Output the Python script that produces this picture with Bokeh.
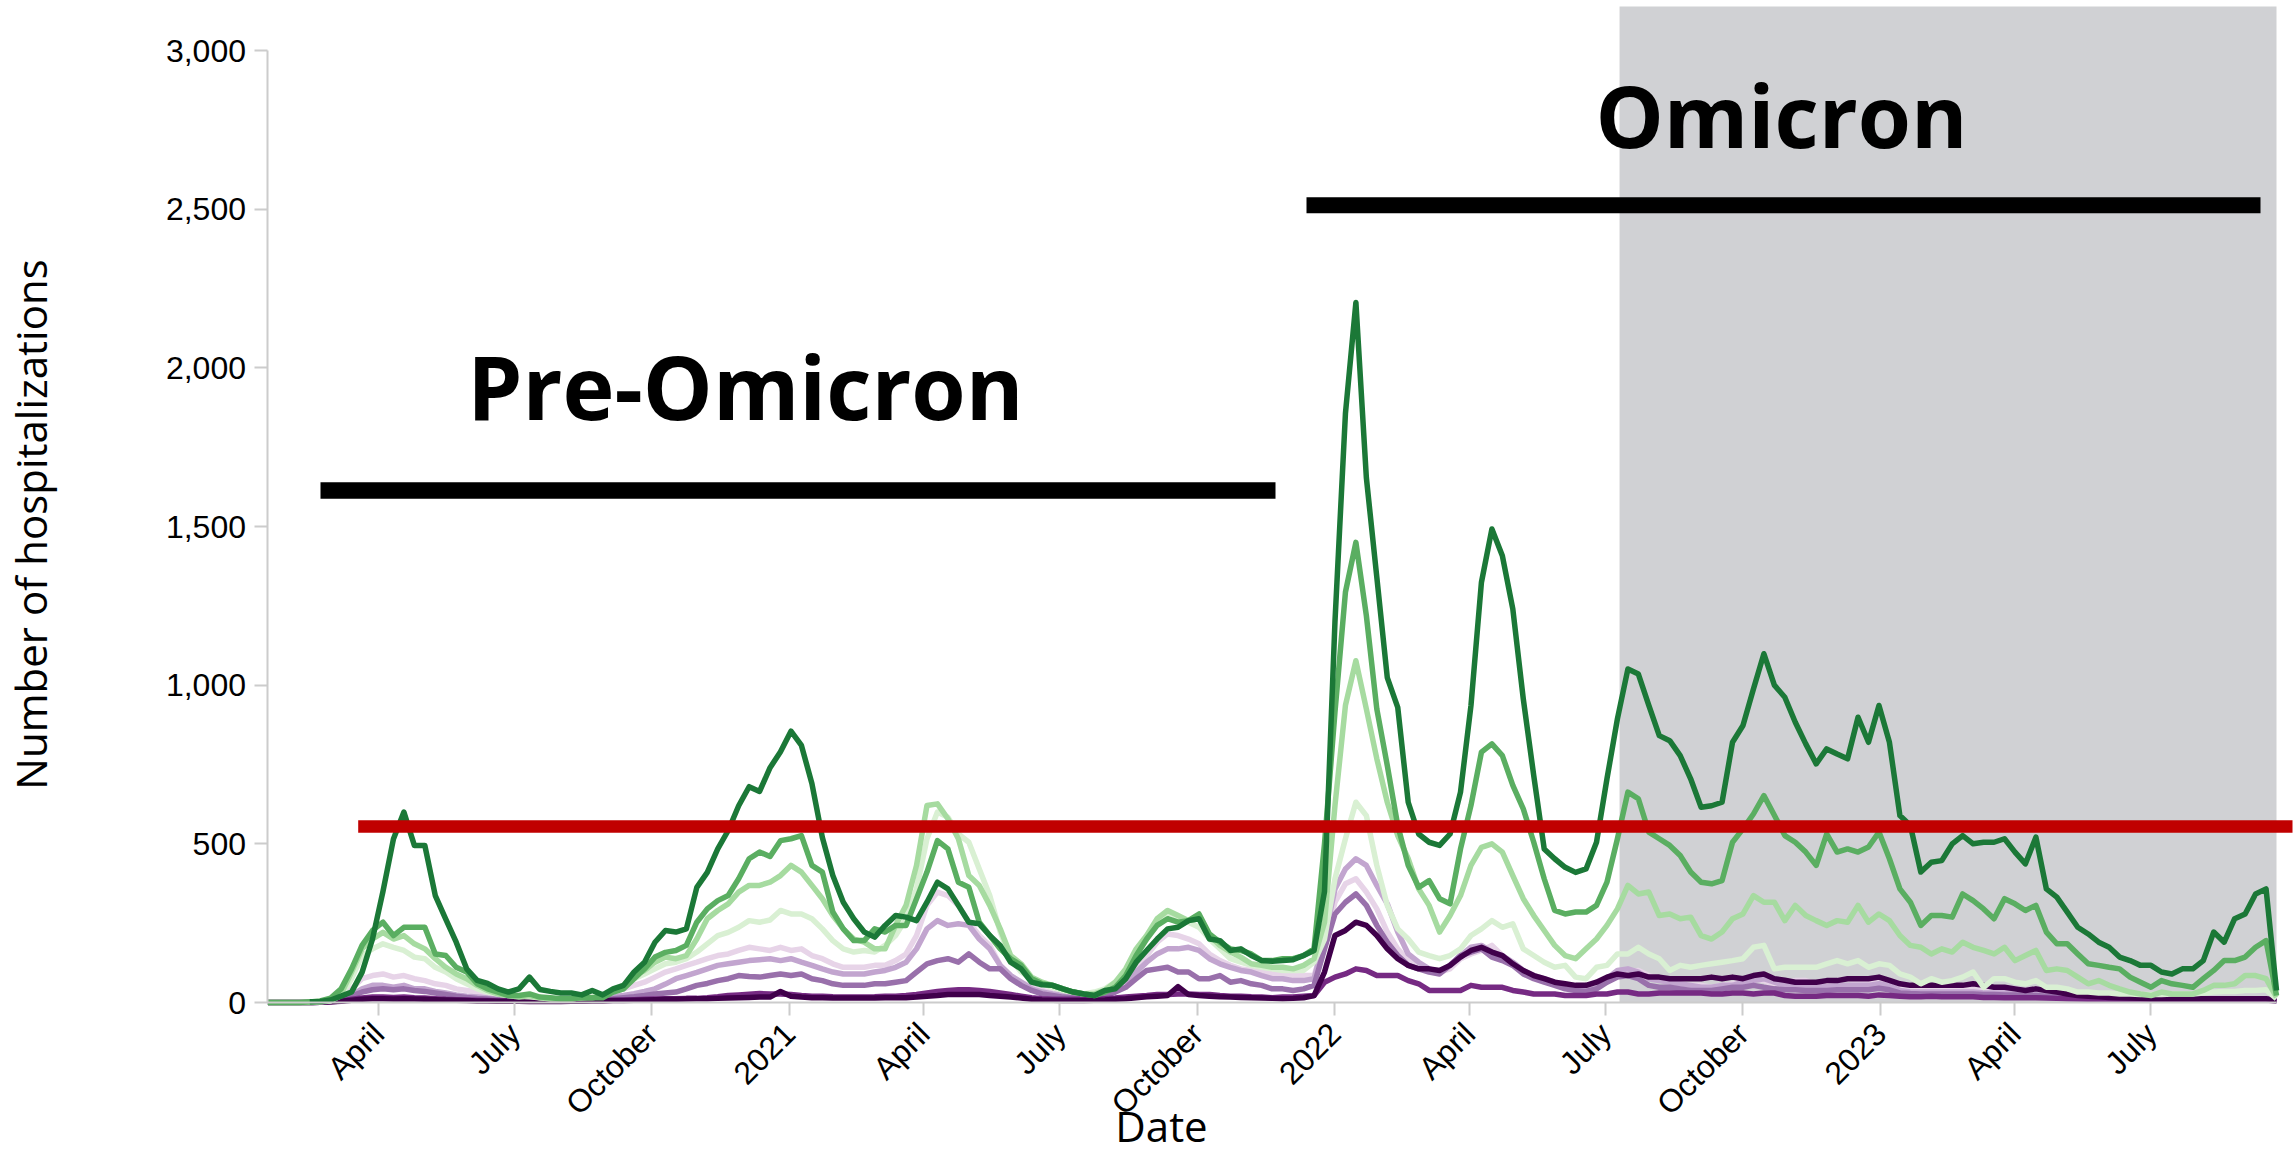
import numpy as np
import pandas as pd
from bokeh.plotting import figure
from bokeh.models import Range1d, FixedTicker, NumeralTickFormatter, BoxAnnotation, Label, ColumnDataSource
from bokeh.embed import file_html
from bokeh.resources import INLINE

nan = float("nan")

# ---------------- data (weekly, week ending Saturday, from 2020-01-18) ----------------
first_week = "2020-01-18"
n_weeks = 193

green_4 = [
    nan, nan, nan, nan, 2, 3, 8, 20, 33, 95,
    200, 350, 515, 600, 495, 495, 337, 263, 190, 106,
    70, 60, 43, 33, 43, 80, 41, 35, 30, 30,
    24, 38, 24, 43, 54, 96, 127, 190, 227, 222,
    232, 363, 410, 484, 542, 620, 680, 665, 740, 790,
    855, 810, 690, 520, 400, 316, 264, 222, 206, 243,
    274, 269, 258, 316, 379, 358, 306, 253, 248, 211,
    180, 127, 106, 64, 56, 54, 43, 33, 27, 22,
    38, 43, 75, 127, 164, 200, 232, 237, 258, 264,
    200, 195, 164, 169, 148, 132, 130, 132, 135, 148,
    164, 350, 1200, 1856, 2206, 1654, 1340, 1024, 930, 631,
    531, 505, 495, 531, 663, 936, 1324, 1492, 1408, 1240,
    957, 715, 484, 453, 426, 410, 421, 505, 705, 894,
    1051, 1035, 936, 841, 825, 778, 705, 615, 620, 631,
    820, 873, 988, 1099, 1000, 962, 883, 815, 752, 799,
    783, 768, 899, 820, 936, 820, 589, 558, 411, 442,
    447, 500, 526, 500, 505, 505, 516, 474, 437, 521,
    358, 332, 285, 237, 216, 190, 174, 143, 132, 117,
    117, 96, 90, 106, 106, 132, 222, 190, 264, 279,
    342, 358, 38,
]
green_3 = [
    0, 0, 0, 0, 2, 5, 14, 43, 106, 180,
    227, 253, 211, 237, 237, 237, 153, 148, 111, 96,
    59, 43, 33, 22, 22, 27, 17, 15, 12, 12,
    15, 15, 15, 33, 43, 75, 106, 143, 158, 164,
    180, 253, 295, 321, 337, 390, 453, 474, 460, 510,
    516, 526, 432, 411, 285, 232, 195, 195, 232, 222,
    243, 243, 327, 411, 510, 484, 379, 363, 253, 211,
    169, 138, 117, 75, 59, 54, 43, 33, 27, 22,
    33, 48, 85, 148, 200, 243, 264, 253, 258, 279,
    216, 190, 169, 164, 153, 132, 132, 138, 138, 148,
    169, 500, 915, 1293, 1450, 1219, 925, 747, 558, 432,
    363, 384, 327, 311, 484, 621, 789, 815, 778, 684,
    610, 505, 390, 290, 279, 285, 285, 306, 379, 516,
    663, 642, 537, 516, 495, 463, 411, 379, 374, 384,
    505, 547, 594, 652, 590, 526, 505, 474, 432, 531,
    474, 484, 474, 490, 537, 453, 358, 316, 243, 274,
    274, 269, 342, 321, 295, 264, 327, 311, 290, 306,
    222, 185, 185, 153, 122, 117, 111, 106, 80, 64,
    48, 69, 59, 54, 48, 75, 101, 132, 132, 143,
    174, 195, 22,
]
green_2 = [
    0, 0, 0, 0, 0, 2, 6, 27, 96, 169,
    200, 221, 200, 211, 185, 169, 138, 111, 90, 75,
    54, 38, 27, 22, 17, 22, 15, 12, 12, 12,
    15, 15, 20, 38, 54, 85, 101, 127, 143, 138,
    148, 200, 264, 290, 311, 348, 369, 369, 379, 400,
    432, 411, 369, 327, 274, 232, 200, 190, 169, 169,
    243, 306, 432, 621, 626, 579, 516, 400, 369, 306,
    232, 148, 122, 80, 64, 54, 43, 33, 27, 27,
    38, 64, 106, 169, 211, 264, 290, 274, 258, 264,
    211, 180, 159, 143, 122, 117, 111, 111, 106, 117,
    138, 253, 621, 936, 1077, 925, 768, 631, 526, 453,
    358, 306, 222, 274, 337, 432, 489, 500, 474, 400,
    327, 274, 227, 180, 148, 138, 169, 200, 243, 295,
    369, 342, 348, 274, 279, 264, 269, 211, 200, 222,
    264, 279, 337, 316, 316, 258, 306, 274, 258, 243,
    258, 253, 306, 253, 279, 258, 211, 180, 174, 153,
    169, 159, 190, 174, 164, 153, 174, 132, 148, 164,
    101, 106, 101, 80, 59, 69, 54, 43, 33, 27,
    22, 33, 27, 27, 27, 38, 54, 54, 59, 85,
    85, 75, 17,
]
green_1 = [
    0, 0, 0, 0, 0, 2, 5, 22, 75, 148,
    169, 185, 174, 164, 143, 138, 111, 96, 75, 59,
    43, 33, 27, 22, 20, 18, 15, 12, 12, 12,
    15, 18, 22, 43, 54, 75, 90, 106, 122, 127,
    138, 159, 185, 211, 221, 237, 258, 253, 260, 290,
    279, 279, 264, 232, 195, 169, 159, 164, 159, 180,
    211, 264, 358, 516, 600, 584, 531, 505, 421, 337,
    222, 138, 96, 75, 59, 48, 38, 33, 27, 33,
    43, 64, 96, 148, 200, 253, 285, 269, 253, 237,
    200, 169, 138, 127, 117, 111, 106, 101, 101, 101,
    127, 200, 390, 516, 631, 589, 432, 306, 232, 200,
    159, 148, 138, 148, 169, 211, 232, 258, 237, 248,
    169, 148, 127, 111, 117, 80, 75, 111, 117, 153,
    153, 174, 153, 138, 101, 117, 111, 117, 122, 127,
    132, 138, 174, 180, 106, 111, 111, 111, 111, 122,
    132, 122, 132, 111, 122, 117, 90, 80, 59, 75,
    64, 69, 80, 96, 48, 75, 75, 64, 59, 69,
    48, 48, 43, 33, 33, 30, 30, 27, 27, 25,
    25, 25, 27, 27, 27, 30, 33, 35, 35, 38,
    38, 40, 12,
]
purple_1 = [
    0, 0, 0, 0, 0, 2, 4, 10, 43, 75,
    85, 90, 80, 85, 75, 69, 59, 54, 43, 38,
    33, 22, 17, 14, 12, 10, 10, 10, 10, 12,
    14, 17, 20, 33, 43, 54, 64, 80, 96, 106,
    117, 127, 138, 148, 153, 164, 174, 169, 164, 174,
    164, 169, 148, 138, 122, 111, 111, 111, 117, 117,
    132, 153, 211, 306, 348, 337, 306, 253, 211, 180,
    117, 85, 64, 48, 38, 30, 24, 20, 17, 22,
    33, 54, 75, 106, 148, 190, 216, 211, 200, 185,
    153, 132, 117, 106, 101, 96, 90, 90, 85, 85,
    85, 190, 316, 374, 390, 348, 295, 222, 169, 132,
    111, 101, 96, 106, 138, 153, 164, 180, 148, 122,
    96, 80, 69, 59, 54, 45, 43, 54, 69, 90,
    96, 101, 85, 75, 64, 59, 54, 54, 48, 54,
    59, 64, 75, 69, 54, 64, 69, 69, 59, 64,
    69, 75, 64, 64, 69, 59, 43, 38, 38, 43,
    38, 43, 48, 43, 38, 38, 38, 43, 38, 38,
    33, 27, 25, 22, 20, 18, 17, 16, 15, 14,
    13, 13, 12, 12, 12, 12, 12, 12, 12, 12,
    12, 12, 8,
]
purple_2 = [
    0, 0, 0, 0, 0, 1, 3, 8, 22, 43,
    54, 54, 48, 54, 43, 43, 35, 30, 24, 20,
    17, 14, 12, 10, 8, 8, 8, 8, 8, 10,
    12, 14, 16, 18, 22, 28, 35, 43, 58, 75,
    85, 95, 106, 117, 122, 127, 132, 135, 138, 132,
    138, 127, 117, 106, 96, 90, 90, 90, 96, 101,
    111, 127, 169, 232, 258, 243, 248, 243, 200, 169,
    117, 85, 64, 43, 33, 27, 22, 17, 17, 22,
    33, 48, 69, 96, 127, 153, 169, 169, 174, 164,
    138, 122, 111, 101, 96, 85, 75, 75, 69, 69,
    75, 200, 358, 421, 453, 432, 369, 311, 222, 153,
    127, 106, 96, 117, 148, 174, 180, 159, 148, 127,
    101, 85, 75, 64, 54, 48, 43, 54, 75, 101,
    106, 96, 75, 69, 64, 59, 54, 48, 48, 54,
    54, 64, 69, 75, 64, 54, 54, 54, 50, 50,
    54, 54, 54, 54, 59, 54, 38, 33, 33, 33,
    33, 33, 33, 33, 30, 30, 30, 30, 27, 27,
    25, 22, 20, 18, 16, 15, 14, 13, 12, 12,
    11, 11, 10, 10, 10, 10, 10, 10, 10, 10,
    10, 10, 6,
]
purple_3 = [
    0, 0, 0, 0, 0, 1, 3, 8, 20, 33,
    40, 43, 40, 43, 38, 35, 30, 25, 20, 16,
    13, 11, 9, 8, 7, 6, 6, 6, 6, 7,
    8, 9, 10, 12, 15, 18, 22, 27, 30, 33,
    43, 54, 60, 69, 75, 85, 82, 80, 85, 90,
    85, 90, 75, 69, 59, 54, 54, 54, 59, 59,
    64, 69, 96, 122, 132, 138, 127, 153, 127, 106,
    106, 75, 54, 38, 27, 22, 17, 14, 14, 17,
    22, 33, 48, 75, 101, 106, 111, 96, 96, 75,
    75, 85, 64, 69, 59, 54, 43, 43, 38, 43,
    54, 169, 279, 316, 342, 306, 243, 190, 148, 117,
    106, 96, 90, 117, 148, 159, 169, 143, 132, 117,
    90, 75, 64, 54, 43, 38, 35, 43, 64, 80,
    85, 75, 54, 48, 48, 43, 38, 38, 38, 43,
    48, 48, 54, 48, 43, 40, 40, 38, 38, 38,
    40, 40, 40, 40, 45, 40, 30, 28, 27, 27,
    27, 27, 27, 27, 25, 25, 24, 24, 22, 22,
    20, 18, 16, 15, 14, 13, 12, 11, 10, 10,
    10, 9, 9, 9, 9, 9, 9, 9, 9, 9,
    9, 9, 5,
]
purple_4 = [
    0, 0, 0, 0, 0, 1, 2, 5, 10, 14,
    17, 17, 16, 17, 15, 14, 12, 10, 9, 8,
    7, 6, 5, 5, 4, 4, 4, 4, 4, 5,
    5, 6, 6, 7, 8, 9, 10, 11, 12, 12,
    13, 13, 15, 18, 22, 24, 26, 28, 27, 27,
    25, 22, 20, 20, 18, 17, 17, 17, 18, 20,
    20, 22, 25, 30, 35, 38, 40, 40, 38, 35,
    30, 25, 20, 15, 12, 10, 10, 10, 10, 10,
    12, 14, 17, 20, 22, 25, 25, 27, 27, 25,
    25, 22, 20, 20, 18, 17, 15, 17, 17, 20,
    22, 64, 80, 90, 106, 101, 85, 85, 85, 69,
    59, 38, 38, 38, 38, 54, 48, 48, 48, 38,
    33, 27, 27, 27, 22, 22, 22, 27, 27, 33,
    33, 27, 27, 30, 30, 30, 30, 30, 27, 27,
    30, 30, 27, 30, 30, 22, 20, 20, 20, 22,
    22, 22, 22, 20, 24, 22, 20, 18, 18, 20,
    18, 18, 18, 18, 16, 16, 15, 15, 15, 15,
    14, 13, 12, 11, 10, 10, 9, 9, 9, 9,
    9, 9, 8, 8, 8, 8, 8, 8, 8, 8,
    8, 8, 5,
]
purple_5 = [
    0, 0, 0, 0, 0, 1, 2, 4, 7, 10,
    12, 12, 11, 12, 11, 10, 9, 8, 7, 6,
    5, 5, 4, 4, 4, 3, 3, 3, 3, 4,
    4, 5, 5, 6, 6, 7, 8, 9, 10, 10,
    11, 12, 12, 13, 14, 15, 16, 17, 17, 35,
    20, 17, 15, 15, 14, 14, 14, 14, 14, 15,
    15, 15, 17, 20, 22, 25, 25, 25, 25, 22,
    20, 17, 14, 10, 8, 7, 6, 6, 6, 7,
    8, 10, 12, 15, 18, 20, 22, 50, 25, 22,
    20, 18, 17, 16, 15, 14, 13, 12, 13, 15,
    22, 96, 211, 227, 253, 243, 211, 169, 138, 117,
    106, 106, 101, 117, 143, 164, 174, 159, 148, 122,
    101, 85, 75, 64, 59, 54, 54, 64, 80, 90,
    85, 90, 80, 80, 75, 75, 75, 75, 80, 75,
    80, 75, 85, 90, 75, 70, 64, 64, 64, 69,
    69, 75, 75, 75, 80, 70, 59, 54, 54, 54,
    54, 54, 54, 59, 54, 48, 48, 43, 38, 43,
    38, 33, 27, 22, 20, 18, 16, 15, 14, 13,
    12, 12, 12, 12, 12, 12, 12, 12, 12, 12,
    12, 12, 8,
]

series = [
    ("purple_1", purple_1, "#e7d4e8"),
    ("purple_2", purple_2, "#c2a5cf"),
    ("purple_3", purple_3, "#9970ab"),
    ("purple_4", purple_4, "#762a83"),
    ("purple_5", purple_5, "#40004b"),
    ("green_1", green_1, "#d9f0d3"),
    ("green_2", green_2, "#a6dba0"),
    ("green_3", green_3, "#5aae61"),
    ("green_4", green_4, "#1b7837"),
]
for nm, vals, _ in series:
    assert len(vals) == n_weeks, (nm, len(vals))

tick_dates = ["2020-04-01", "2020-07-01", "2020-10-01", "2021-01-01", "2021-04-01", "2021-07-01",
              "2021-10-01", "2022-01-01", "2022-04-01", "2022-07-01", "2022-10-01", "2023-01-01",
              "2023-04-01", "2023-07-01"]
tick_labels = ["April", "July", "October", "2021", "April", "July", "October", "2022",
               "April", "July", "October", "2023", "April", "July"]
y_ticks = [0, 500, 1000, 1500, 2000, 2500, 3000]
y_max_tick = 3000

# ---------------- layout helpers (page pixel -> data coordinates) ----------------
W, H = 2295, 1156
PX_PER_DAY = 1.4945
FIRST_WEEK_PX = 267.4
ZERO_PX = 1002.0
UNITS_PER_PX = 3000 / 952.0
DAY_MS = 86400000


def ms(s):
    return int(pd.Timestamp(s).value // 10**6)


def xpx(px):
    return ms(first_week) + (px - FIRST_WEEK_PX) / PX_PER_DAY * DAY_MS


def ypx(py):
    return (ZERO_PX - py) * UNITS_PER_PX


dates = pd.date_range(first_week, periods=n_weeks, freq="7D")
dates_ms = [ms(d) for d in dates]

p = figure(width=W, height=H, output_backend="svg", toolbar_location=None,
           x_range=Range1d(xpx(0), xpx(W)), y_range=Range1d(ypx(H), ypx(0)),
           min_border_left=0, min_border_right=0, min_border_top=0, min_border_bottom=0)
p.outline_line_color = None
p.grid.visible = False
p.background_fill_color = "white"
p.border_fill_color = "white"

# shaded Omicron-dominant period
p.add_layout(BoxAnnotation(left=ms("2022-07-10 10:00"), right=dates_ms[-1], bottom=0, top=ypx(6),
                           fill_color="#d0d1d4", fill_alpha=1.0, line_color=None, level="underlay"))

for nm, vals, col in series:
    src = ColumnDataSource(dict(x=dates_ms, y=vals))
    p.line("x", "y", source=src, line_color=col, line_width=5.5, line_join="round")

# threshold line and period bars
p.segment(x0=[xpx(357.7)], y0=[ypx(826)], x1=[xpx(2292)], y1=[ypx(826)],
          line_color="#c00000", line_width=12.5)
p.segment(x0=[xpx(320)], y0=[ypx(490)], x1=[xpx(1275)], y1=[ypx(490)],
          line_color="black", line_width=16.5)
p.segment(x0=[xpx(1306)], y0=[ypx(204.7)], x1=[xpx(2260)], y1=[ypx(204.7)],
          line_color="black", line_width=16)

# axes drawn at fixed locations
tick_ms = [ms(t) for t in tick_dates]
xa = p.xaxis[0]
xa.fixed_location = 0
xa.ticker = FixedTicker(ticks=tick_ms)
xa.major_label_overrides = {t: l for t, l in zip(tick_ms, tick_labels)}
xa.major_label_orientation = np.pi / 4
xa.bounds = (dates_ms[0], dates_ms[-1])
ya = p.yaxis[0]
ya.fixed_location = xpx(266.5)
ya.ticker = FixedTicker(ticks=y_ticks)
ya.formatter = NumeralTickFormatter(format="0,0")
ya.bounds = (0, y_max_tick)
for ax in (xa, ya):
    ax.axis_line_color = "#cccccc"
    ax.axis_line_width = 2
    ax.major_tick_line_color = "#cccccc"
    ax.major_tick_line_width = 2
    ax.major_tick_out = 13
    ax.major_tick_in = 0
    ax.minor_tick_line_color = None
    ax.major_label_text_font = "Liberation Sans"
    ax.major_label_text_font_size = "32px"
    ax.major_label_text_color = "black"
ya.major_label_standoff = 8
xa.major_label_standoff = 13

# axis titles and period labels
p.add_layout(Label(x=xpx(30), y=ypx(524), text="Number of hospitalizations", angle=np.pi / 2,
                   text_font="Open Sans", text_font_size="42px", text_align="center",
                   text_baseline="alphabetic", text_color="black"))
p.add_layout(Label(x=xpx(1161), y=ypx(1125), text="Date",
                   text_font="Open Sans", text_font_size="42px", text_align="center",
                   text_baseline="alphabetic", text_color="black"))
p.add_layout(Label(x=xpx(745), y=ypx(385), text="Pre-Omicron",
                   text_font="Open Sans", text_font_size="88px", text_font_style="bold",
                   text_align="center", text_baseline="alphabetic", text_color="black"))
p.add_layout(Label(x=xpx(1781), y=ypx(114), text="Omicron",
                   text_font="Open Sans", text_font_size="86px", text_font_style="bold",
                   text_align="center", text_baseline="alphabetic", text_color="black"))

open("out.html", "w").write(file_html(p, INLINE))
